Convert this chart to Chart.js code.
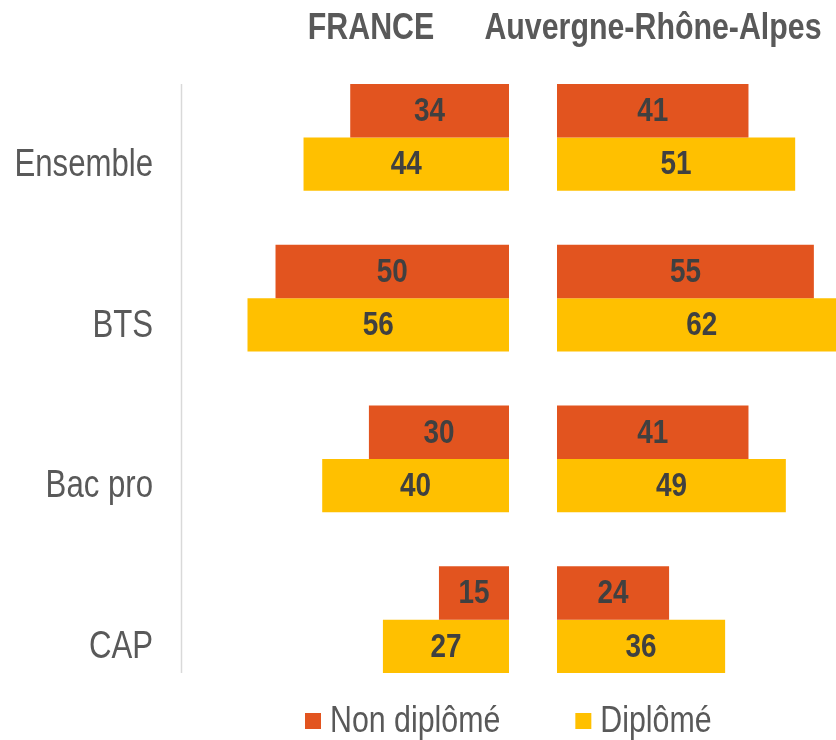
<!DOCTYPE html>
<html lang="fr">
<head>
<meta charset="utf-8">
<title>Non diplômé / Diplômé</title>
<script src="https://cdn.jsdelivr.net/npm/chart.js@4/dist/chart.umd.min.js"></script>
<style>
    html, body { margin: 0; padding: 0; background: #fff; overflow: hidden; }
    #wrap { width: 836px; height: 740px; position: relative; }
</style>
</head>
<body>
<div id="wrap"><canvas id="myChart"></canvas></div>
<script>
// Données
const categories = ['Ensemble', 'BTS', 'Bac pro', 'CAP'];
const franceNonDiplome = [34, 50, 30, 15];
const franceDiplome = [44, 56, 40, 27];
const araNonDiplome = [41, 55, 41, 24];
const araDiplome = [51, 62, 49, 36];
const seriesLabels = ['Non diplômé', 'Diplômé'];
const panelTitles = ['FRANCE', 'Auvergne-Rhône-Alpes'];

const FONT = "'Liberation Sans', Arial, sans-serif";
const NARROW = 0.82; // pour imiter une police étroite
const ORANGE = '#E2541F';
const JAUNE = '#FFC000';
const GRIS = '#595959';

// texte étroit (échelle horizontale)
function texteEtroit(c, txt, x, y, font, align) {
    c.save();
    c.font = font;
    c.textAlign = align;
    c.textBaseline = 'middle';
    c.translate(x, y);
    c.scale(NARROW, 1);
    c.fillText(txt, 0, 0);
    c.restore();
}

document.addEventListener("DOMContentLoaded", function () {
    // Titres des deux panneaux + libellés des catégories
    const titresPlugin = {
        id: 'titres',
        afterDraw(chart) {
            const c = chart.ctx;
            c.fillStyle = GRIS;
            texteEtroit(c, panelTitles[0], 371, 29, 'bold 37px ' + FONT, 'center');
            texteEtroit(c, panelTitles[1], 653, 29, 'bold 37px ' + FONT, 'center');
            const y = chart.scales.y;
            y.ticks.forEach((t, i) => {
                texteEtroit(c, y.getLabelForValue(t.value), chart.chartArea.left - 28,
                    y.getPixelForTick(i) + 28, '38px ' + FONT, 'right');
            });
        }
    };

    // Valeurs au centre des barres + trait vertical de l'axe
    const etiquettesPlugin = {
        id: 'etiquettes',
        afterDatasetsDraw(chart) {
            const c = chart.ctx;
            c.save();
            const first = chart.getDatasetMeta(0).data[0];
            const last = chart.getDatasetMeta(1).data[categories.length - 1];
            const x0 = chart.chartArea.left + 0.5;
            c.strokeStyle = '#D9D9D9';
            c.lineWidth = 1.5;
            c.beginPath();
            c.moveTo(x0, first.y - first.height / 2);
            c.lineTo(x0, last.y + last.height / 2);
            c.stroke();
            c.restore();

            c.fillStyle = '#404040';
            chart.data.datasets.forEach((ds, i) => {
                chart.getDatasetMeta(i).data.forEach((bar, j) => {
                    texteEtroit(c, String(ds.data[j]), (bar.x + bar.base) / 2, bar.y + 1, 'bold 34px ' + FONT, 'center');
                });
            });
        }
    };

    // Légende en bas
    const legendePlugin = {
        id: 'legende',
        afterDraw(chart) {
            const c = chart.ctx;
            const font = '37px ' + FONT;
            let x = 305;
            const y = 721;
            [ORANGE, JAUNE].forEach((col, i) => {
                c.fillStyle = col;
                c.fillRect(x, y - 8, 16, 16);
                x += 16 + 9;
                c.fillStyle = GRIS;
                texteEtroit(c, seriesLabels[i], x, y + 1, font, 'left');
                c.save();
                c.font = font;
                x += c.measureText(seriesLabels[i]).width * NARROW + 75;
                c.restore();
            });
        }
    };

    const hiddenAxis = {
        type: 'linear',
        position: 'bottom',
        stack: 'panneaux',
        stacked: false,
        grid: { display: false, drawTicks: false },
        border: { display: false },
        ticks: { display: false }
    };

    const ctx = document.getElementById('myChart').getContext('2d');
    const myChart = new Chart(ctx, {
        type: 'bar',
        data: {
            labels: categories,
            datasets: [
                { label: seriesLabels[0], data: franceNonDiplome, backgroundColor: ORANGE, xAxisID: 'xF', stack: 'nd' },
                { label: seriesLabels[1], data: franceDiplome, backgroundColor: JAUNE, xAxisID: 'xF', stack: 'd' },
                { label: seriesLabels[0], data: araNonDiplome, backgroundColor: ORANGE, xAxisID: 'xA', stack: 'nd' },
                { label: seriesLabels[1], data: araDiplome, backgroundColor: JAUNE, xAxisID: 'xA', stack: 'd' }
            ]
        },
        options: {
            indexAxis: 'y',
            responsive: true,
            maintainAspectRatio: false,
            animation: false,
            layout: { padding: { top: 57, bottom: 40, left: 0, right: 0 } },
            datasets: {
                bar: { categoryPercentage: 0.665, barPercentage: 1, borderWidth: 0 }
            },
            scales: {
                y: {
                    type: 'category',
                    position: 'left',
                    grid: { display: false, drawTicks: false },
                    border: { display: false },
                    ticks: { display: false },
                    afterFit: (s) => { s.width = 181; }
                },
                // France : barres vers la gauche
                xF: Object.assign({}, hiddenAxis, { reverse: true, min: -5.14, max: 70.24, stackWeight: 352 }),
                // Auvergne-Rhône-Alpes : barres vers la droite
                xA: Object.assign({}, hiddenAxis, { min: -5.14, max: 59.74, stackWeight: 303 })
            },
            plugins: {
                legend: { display: false },
                tooltip: { enabled: false }
            }
        },
        plugins: [etiquettesPlugin, titresPlugin, legendePlugin]
    });
});
</script>
</body>
</html>
